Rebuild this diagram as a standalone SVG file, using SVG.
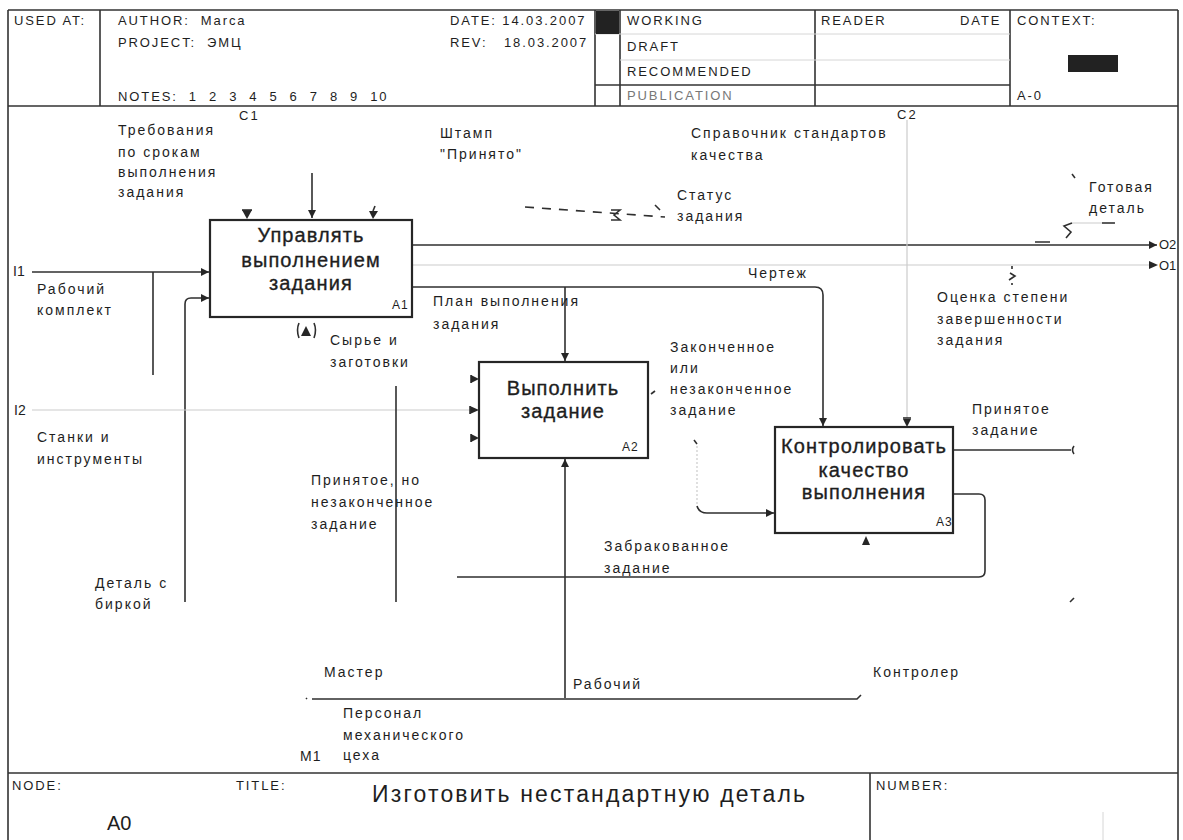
<svg xmlns="http://www.w3.org/2000/svg" width="1183" height="840" viewBox="0 0 1183 840">
  <style>
    text { font-family: "Liberation Sans", Arial, sans-serif; fill: #1e1e1e; }
    .hd { font-size: 13px; letter-spacing: 1.9px; }
    .lb { font-size: 14px; letter-spacing: 2px; }
    .bx { font-size: 20px; letter-spacing: 1.1px; text-anchor: middle; stroke: #1e1e1e; stroke-width: 0.35; }
    .nm { font-size: 12px; letter-spacing: 1px; }
    .frame { fill: none; stroke: #333; stroke-width: 1.6; }
    .thin { fill: none; stroke: #d6d6d6; stroke-width: 1; }
    .box { fill: #fff; stroke: #262626; stroke-width: 2.2; }
    .ln { fill: none; stroke: #2f2f2f; stroke-width: 1.6; }
    .faint { fill: none; stroke: #cbcbcb; stroke-width: 1.2; }
    .head { fill: #262626; stroke: none; }
  </style>
  <defs>
    <marker id="ah" viewBox="0 0 10 10" refX="10" refY="5" markerWidth="9" markerHeight="8" markerUnits="userSpaceOnUse" orient="auto">
      <path d="M0,0 L10,5 L0,10 z" fill="#262626"/>
    </marker>
  </defs>

  <rect width="1183" height="840" fill="#fff"/>

  <!-- header block -->
  <g id="header">
    <path class="frame" d="M8,10 H1178 M8,10 V840 M1178,10 V840 M8,106 H1178"/>
    <path class="frame" d="M100,10 V106 M595,10 V106 M620,10 V106 M815,10 V106 M1010,10 V106"/>
    <path class="thin" d="M595,34 H1010 M620,60 H1010"/>
    <path class="frame" d="M595,85 H1010"/>
    <rect x="596" y="11" width="23" height="23" fill="#222"/>
    <rect x="1068" y="55" width="50" height="17" fill="#222"/>
    <text class="hd" x="14" y="25">USED AT:</text>
    <text class="hd" x="118" y="25" xml:space="preserve">AUTHOR:  Marca</text>
    <text class="hd" x="118" y="47" xml:space="preserve">PROJECT:  ЭМЦ</text>
    <text class="hd" x="118" y="101" xml:space="preserve">NOTES:  1  2  3  4  5  6  7  8  9  10</text>
    <text class="hd" x="450" y="25">DATE: 14.03.2007</text>
    <text class="hd" x="450" y="47" xml:space="preserve">REV:   18.03.2007</text>
    <text class="hd" x="627" y="25">WORKING</text>
    <text class="hd" x="627" y="51">DRAFT</text>
    <text class="hd" x="627" y="76">RECOMMENDED</text>
    <text class="hd" x="627" y="100" style="fill:#777">PUBLICATION</text>
    <text class="hd" x="821" y="25">READER</text>
    <text class="hd" x="960" y="25">DATE</text>
    <text class="hd" x="1017" y="25">CONTEXT:</text>
    <text class="hd" x="1017" y="100">A-0</text>
  </g>

  <!-- footer block -->
  <g id="footer">
    <path class="frame" d="M8,773 H1178 M870,773 V840"/>
    <path class="thin" d="M1103,812 V840"/>
    <text class="hd" x="12" y="790">NODE:</text>
    <text x="107" y="830" style="font-size:20px">A0</text>
    <text class="hd" x="236" y="790">TITLE:</text>
    <text x="372" y="802" style="font-size:23px" textLength="433" lengthAdjust="spacing">Изготовить нестандартную деталь</text>
    <text class="hd" x="876" y="790">NUMBER:</text>
  </g>

  <!-- arrows between activities and boundary -->
  <g id="connectors">
    <!-- boundary input I1 and its branches -->
    <path class="ln" d="M32,272 H209" marker-end="url(#ah)"/>
    <path class="ln" d="M153,272 V375"/>
    <path class="ln" d="M185,602 V304 Q185,298 191,298 H209" marker-end="url(#ah)"/>
    <!-- controls entering A1 -->
    <path class="ln" d="M312,173 V218" marker-end="url(#ah)"/>
    <path class="head" d="M242,210 H252 L247,219 z"/>
    <path class="ln" d="M242,210 H252"/>
    <path class="head" d="M369,211 L378,211 L373,219 z"/>
    <path class="ln" d="M375,206 L373,211"/>
    <!-- A1 outputs -->
    <path class="ln" d="M412,245 H1157" marker-end="url(#ah)"/>
    <path class="faint" d="M412,265 H1150"/>
    <path class="head" d="M1149,261 L1158,265 L1149,269 z"/>
    <path class="ln" d="M412,287 H815 Q823,287 823,295 V426" marker-end="url(#ah)"/>
    <path class="ln" d="M565,287 V361" marker-end="url(#ah)"/>
    <!-- status squiggle -->
    <path class="ln" d="M525,207 L665,217" stroke-dasharray="9 8" stroke-width="1.3"/>
    <path class="ln" d="M611,210 H620 L614,215 L620,220 H611" stroke-width="1.1"/>
    <path class="ln" d="M655,205 L660,210" stroke-width="1"/>
    <!-- finished-part squiggle -->
    <path class="faint" d="M1114,223 H1072"/>
    <path class="ln" d="M1102,223 H1115 M1072,223 L1064,226 L1071,232 L1066,238 M1035,242 H1050" stroke-width="1.3"/>
    <path class="ln" d="M1072,174 L1075,178" stroke-width="1"/>
    <!-- completion-estimate squiggle -->
    <path class="ln" d="M1012,266 V269 M1010,273 L1015,276 L1009,280 M1012,283 V285" stroke-width="1.1"/>
    <!-- C2 into A3 -->
    <path class="faint" d="M907,120 V418"/>
    <path class="ln" d="M903,418 H911"/>
    <path class="head" d="M903,419 H911 L907,427 z"/>
    <!-- boundary input I2 and A2 inputs -->
    <path class="faint" d="M32,410 H470"/>
    <path class="head" d="M470,406 L479,410 L470,414 z"/>
    <path class="ln" d="M470,406 V414"/>
    <path class="ln" d="M471,375 V383 M471,379 H473"/>
    <path class="head" d="M471,375 L479,379 L471,383 z"/>
    <path class="ln" d="M471,434 V442 M471,438 H473"/>
    <path class="head" d="M471,434 L479,438 L471,442 z"/>
    <path class="ln" d="M396,386 V602"/>
    <!-- A1 tunnelled mechanism -->
    <path class="head" d="M301,336 L306,326 L311,336 z"/>
    <path class="ln" d="M299,323 Q296,330 299,338 M314,323 Q317,330 314,338" stroke-width="1.2"/>
    <!-- mechanism bar and worker to A2 -->
    <path class="ln" d="M306,699 L307,698 M312,699 H857 L861,695"/>
    <path class="ln" d="M565,698 V459" marker-end="url(#ah)"/>
    <!-- A2 output into A3 -->
    <path class="ln" d="M651,394 L655,391" stroke-width="1"/>
    <path class="ln" d="M694,440 L697,444" stroke-width="1"/>
    <path class="faint" d="M697,446 V505" stroke-dasharray="2 2"/>
    <path class="ln" d="M697,506 Q699,513 707,513 H774" marker-end="url(#ah)"/>
    <!-- A3 outputs -->
    <path class="ln" d="M953,450 H1071"/>
    <path class="ln" d="M1074,446 Q1071,450 1074,454" stroke-width="1"/>
    <path class="ln" d="M953,494 H979 Q985,494 985,500 V571 Q985,577 979,577 H457"/>
    <!-- A3 mechanism -->
    <path class="head" d="M862,545 L866,536 L870,545 z"/>
    <path class="ln" d="M1070,602 L1074,598" stroke-width="1"/>
  </g>

  <!-- activity A1 -->
  <g id="A1">
    <rect class="box" x="210" y="220" width="202" height="97"/>
    <text class="bx" x="311" y="242">Управлять</text>
    <text class="bx" x="311" y="267">выполнением</text>
    <text class="bx" x="311" y="290">задания</text>
    <text class="nm" x="392" y="309">A1</text>
  </g>

  <!-- activity A2 -->
  <g id="A2">
    <rect class="box" x="479" y="362" width="169" height="96"/>
    <text class="bx" x="563" y="395">Выполнить</text>
    <text class="bx" x="563" y="418">задание</text>
    <text class="nm" x="622" y="451">A2</text>
  </g>

  <!-- activity A3 -->
  <g id="A3">
    <rect class="box" x="775" y="427" width="178" height="106"/>
    <text class="bx" x="864" y="453">Контролировать</text>
    <text class="bx" x="864" y="477">качество</text>
    <text class="bx" x="864" y="499">выполнения</text>
    <text class="nm" x="936" y="526">A3</text>
  </g>

  <!-- arrow labels -->
  <g id="labels">
    <text class="lb" x="239" y="120" style="font-size:13px">C1</text>
    <text class="lb" x="897" y="119" style="font-size:13px">C2</text>
    <text class="lb" x="118" y="135">Требования</text>
    <text class="lb" x="118" y="157">по срокам</text>
    <text class="lb" x="118" y="177">выполнения</text>
    <text class="lb" x="118" y="197">задания</text>
    <text class="lb" x="440" y="138">Штамп</text>
    <text class="lb" x="440" y="159">"Принято"</text>
    <text class="lb" x="691" y="138">Справочник стандартов</text>
    <text class="lb" x="691" y="160">качества</text>
    <text class="lb" x="677" y="200">Статус</text>
    <text class="lb" x="677" y="221">задания</text>
    <text class="lb" x="1089" y="192">Готовая</text>
    <text class="lb" x="1089" y="213">деталь</text>
    <text class="lb" x="1159" y="249" style="letter-spacing:0;font-size:13px">O2</text>
    <text class="lb" x="1159" y="270" style="letter-spacing:0;font-size:13px">O1</text>
    <text class="lb" x="13" y="276" style="letter-spacing:0">I1</text>
    <text class="lb" x="37" y="294">Рабочий</text>
    <text class="lb" x="37" y="315">комплект</text>
    <text class="lb" x="748" y="278">Чертеж</text>
    <text class="lb" x="433" y="306">План выполнения</text>
    <text class="lb" x="433" y="329">задания</text>
    <text class="lb" x="937" y="302">Оценка степени</text>
    <text class="lb" x="937" y="324">завершенности</text>
    <text class="lb" x="937" y="345">задания</text>
    <text class="lb" x="330" y="345">Сырье и</text>
    <text class="lb" x="330" y="367">заготовки</text>
    <text class="lb" x="670" y="352">Законченное</text>
    <text class="lb" x="670" y="373">или</text>
    <text class="lb" x="670" y="394">незаконченное</text>
    <text class="lb" x="670" y="415">задание</text>
    <text class="lb" x="14" y="415" style="letter-spacing:0">I2</text>
    <text class="lb" x="37" y="442">Станки и</text>
    <text class="lb" x="37" y="464">инструменты</text>
    <text class="lb" x="972" y="414">Принятое</text>
    <text class="lb" x="972" y="435">задание</text>
    <text class="lb" x="311" y="485">Принятое, но</text>
    <text class="lb" x="311" y="507">незаконченное</text>
    <text class="lb" x="311" y="529">задание</text>
    <text class="lb" x="604" y="551">Забракованное</text>
    <text class="lb" x="604" y="573">задание</text>
    <text class="lb" x="95" y="588">Деталь с</text>
    <text class="lb" x="95" y="609">биркой</text>
    <text class="lb" x="324" y="677">Мастер</text>
    <text class="lb" x="573" y="689">Рабочий</text>
    <text class="lb" x="873" y="677">Контролер</text>
    <text class="lb" x="343" y="718">Персонал</text>
    <text class="lb" x="343" y="740">механического</text>
    <text class="lb" x="343" y="760">цеха</text>
    <text class="lb" x="300" y="761" style="letter-spacing:1px">M1</text>
  </g>
</svg>
